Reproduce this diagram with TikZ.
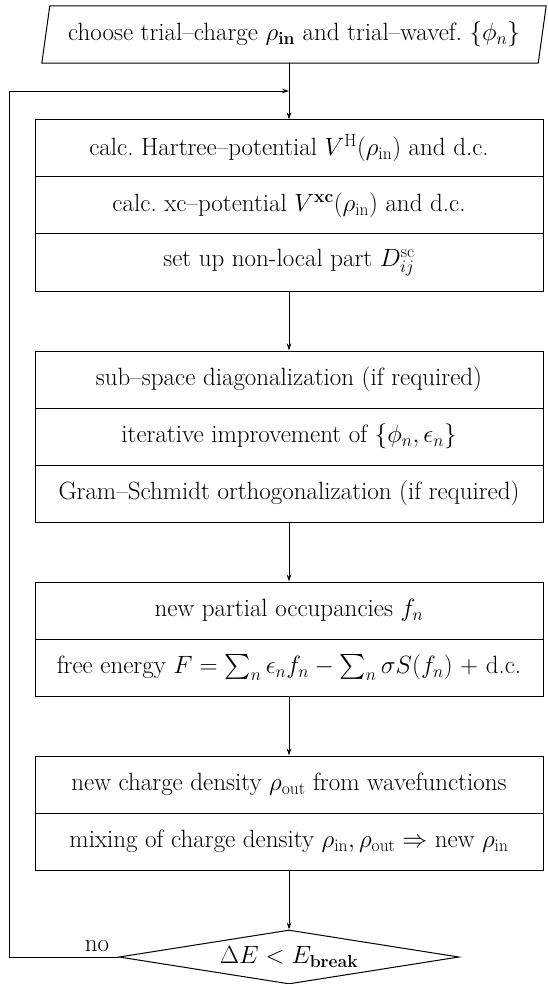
\RequirePackage{fix-cm}
\documentclass[tikz,border=0pt]{standalone}
\usepackage{exscale}
\usetikzlibrary{arrows.meta,shapes.geometric}
\begin{document}
\begin{tikzpicture}[x=1pt,y=-1pt,
  txt/.style={font=\fontsize{25}{30}\selectfont},
  row/.style={txt,draw,line width=1pt,minimum width=508pt,minimum height=57pt,inner sep=0pt},
  arr/.style={line width=0.8pt,-{Stealth[length=7pt,width=4.5pt]}},
  lin/.style={line width=0.8pt}]
\useasboundingbox (0,0) rectangle (547,984);
% start parallelogram
\node[txt,minimum width=496pt,minimum height=57pt,inner sep=0pt] (start) at (294,34.5)
  {choose trial--charge $\rho_{\mathbf{in}}$ and trial--wavef.\ $\{\phi_n\}$};
\draw[line width=1pt] ([xshift=-4pt]start.south west) -- ([xshift=4pt]start.north west)
  -- ([xshift=4pt]start.north east) -- ([xshift=-4pt]start.south east) -- cycle;
% group 1
\node[row] (r1) at (289,148.5) {calc.\ Hartree--potential $V^{\mathrm{H}}(\rho_{\mathrm{in}})$ and d.c.};
\node[row] (r2) at (289,205.5) {calc.\ xc--potential $V^{\mathbf{xc}}(\rho_{\mathrm{in}})$ and d.c.};
\node[row] (r3) at (289,262.5) {set up non-local part $D_{ij}^{\mathrm{sc}}$};
% group 2
\node[row] (r4) at (289,379.5) {sub--space diagonalization (if required)};
\node[row] (r5) at (289,436.5) {iterative improvement of $\{\phi_n,\epsilon_n\}$};
\node[row] (r6) at (289,493.5) {Gram--Schmidt orthogonalization (if required)};
% group 3
\node[row] (r7) at (289,610.5) {new partial occupancies $f_n$};
\node[row] (r8) at (289,667.5) {free energy $F=\sum_n\epsilon_nf_n-\sum_n\sigma S(f_n)$ + d.c.};
% group 4
\node[row] (r9) at (289,784.5) {new charge density $\rho_{\mathrm{out}}$ from wavefunctions};
\node[row] (r10) at (289,841.5) {mixing of charge density $\rho_{\mathrm{in}},\rho_{\mathrm{out}}\Rightarrow$ new $\rho_{\mathrm{in}}$};
% decision
\node[txt,diamond,draw,line width=1pt,aspect=8,minimum width=340pt,minimum height=54pt,inner sep=0pt] (dec) at (289,957) {$\Delta E<E_{\mathbf{break}}$};
\node[txt,anchor=south] (no) at (97,955) {no};
% connectors
\draw[arr] (start.south -| r1.north) -- (r1.north);
\draw[arr] (r3.south) -- (r4.north);
\draw[arr] (r6.south) -- (r7.north);
\draw[arr] (r8.south) -- (r9.north);
\draw[arr] (r10.south) -- (dec.north);
\coordinate (lp) at (9,91);
\draw[arr] (dec.west) -| (lp) -- (lp -| r1.north);
\end{tikzpicture}
\end{document}
